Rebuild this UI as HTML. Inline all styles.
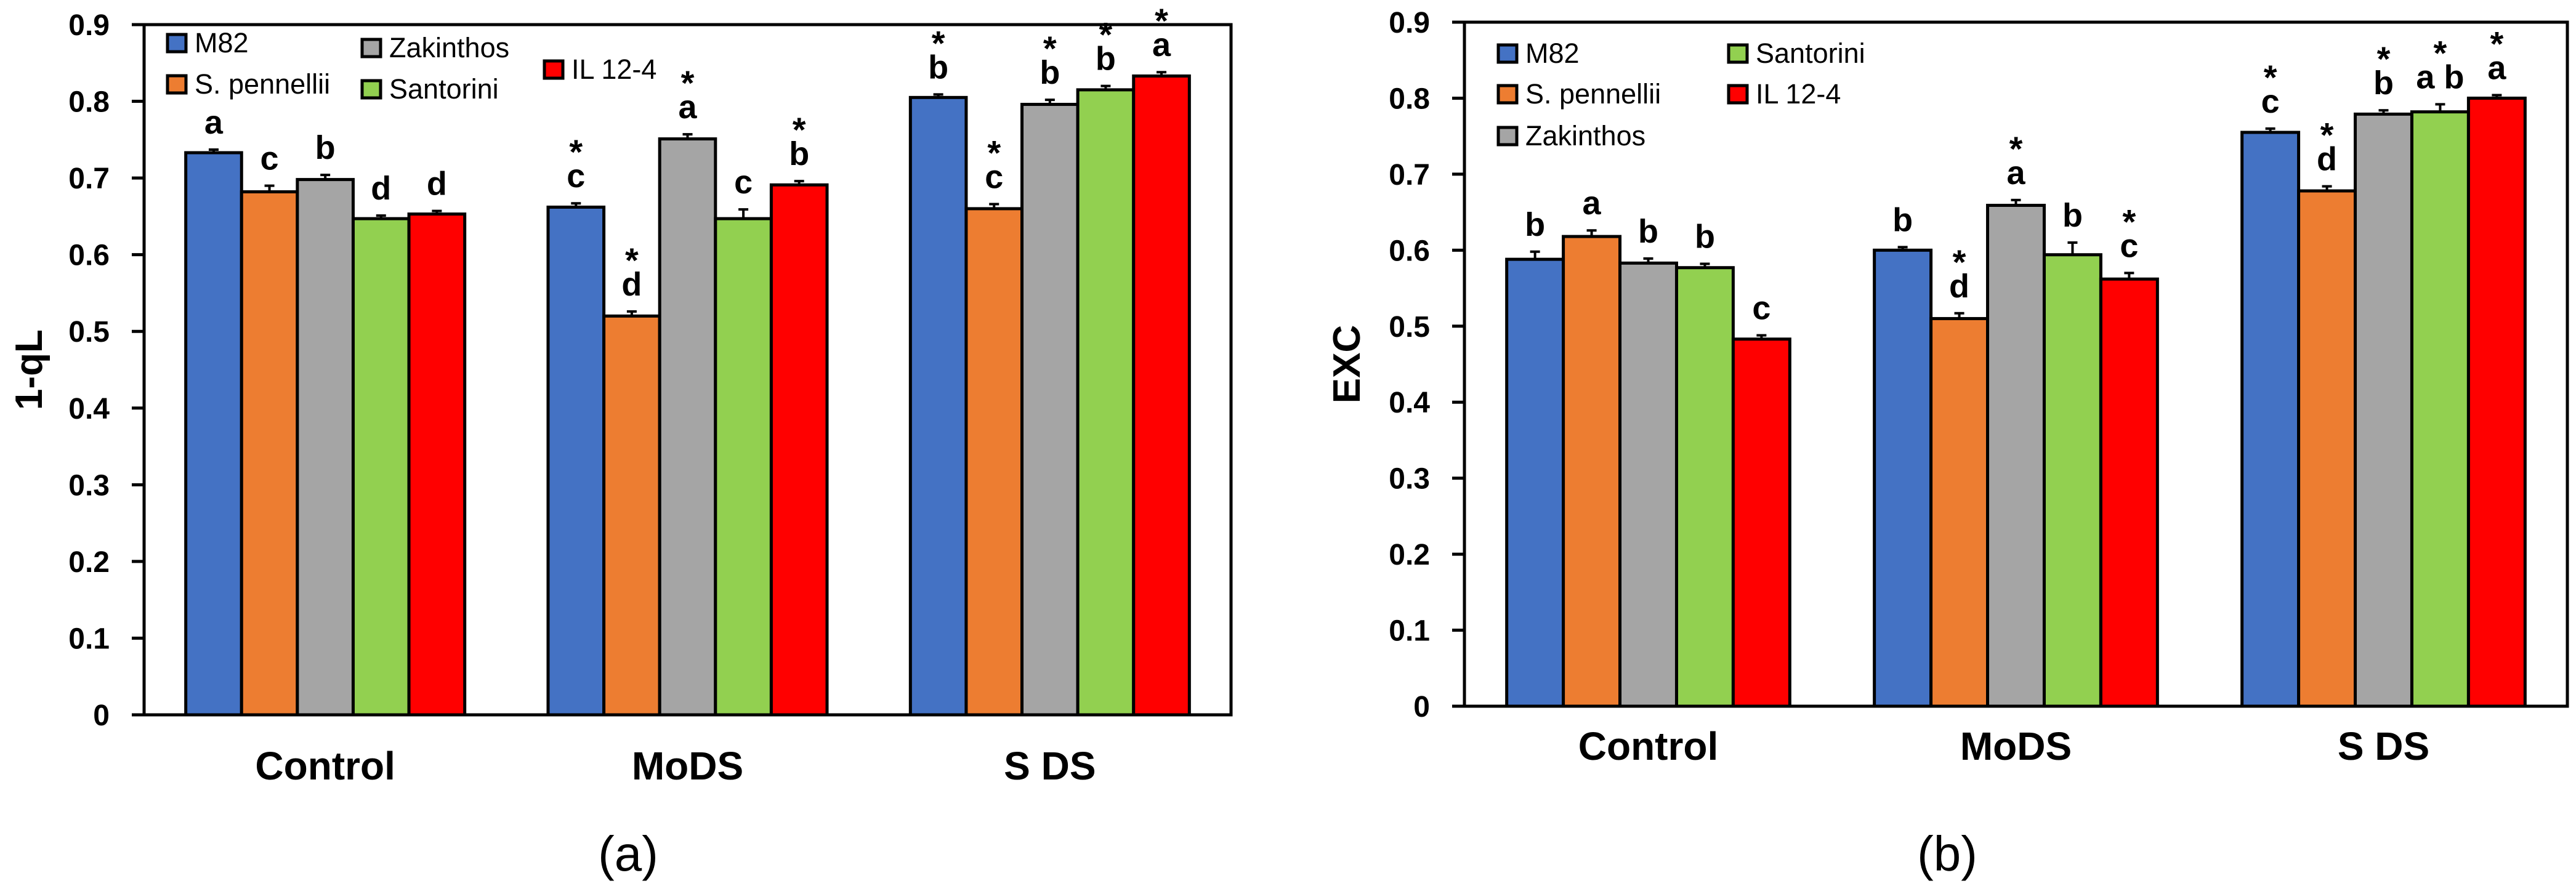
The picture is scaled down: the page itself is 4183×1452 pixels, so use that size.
<!DOCTYPE html>
<html><head><meta charset="utf-8"><style>
html,body{margin:0;padding:0;background:#fff;}
svg{display:block;}
text{font-family:"Liberation Sans",sans-serif;}
</style></head>
<body>
<svg id="fig" width="4183" height="1452" viewBox="0 0 4183 1452" xmlns="http://www.w3.org/2000/svg"></svg>
<script>
// ---- data ----
const categories = ["Control", "MoDS", "S DS"];
const seriesNames = ["M82", "S. pennellii", "Zakinthos", "Santorini", "IL 12-4"];
const seriesColors = ["#4472C4", "#ED7D31", "#A5A5A5", "#92D050", "#FF0000"];
const yTicks = ["0", "0.1", "0.2", "0.3", "0.4", "0.5", "0.6", "0.7", "0.8", "0.9"];

// chart (a) 1-qL : values per series across categories
const qlM82 = [0.733, 0.662, 0.805];
const qlSpen = [0.682, 0.520, 0.660];
const qlZak = [0.698, 0.751, 0.796];
const qlSant = [0.647, 0.647, 0.815];
const qlIL = [0.653, 0.691, 0.833];
const qlErr = [[0.004, 0.005, 0.004], [0.008, 0.006, 0.006], [0.006, 0.006, 0.006], [0.004, 0.012, 0.005], [0.004, 0.005, 0.005]];
const qlLetters = [["a", "c", "b"], ["c", "d", "c"], ["b", "a", "b"], ["d", "c", "b"], ["d", "b", "a"]];
const qlStars = [[0, 1, 1], [0, 1, 1], [0, 1, 1], [0, 0, 1], [0, 1, 1]];

// chart (b) EXC
const excM82 = [0.588, 0.600, 0.755];
const excSpen = [0.618, 0.510, 0.678];
const excZak = [0.583, 0.659, 0.779];
const excSant = [0.577, 0.594, 0.782];
const excIL = [0.483, 0.562, 0.800];
const excErr = [[0.010, 0.004, 0.005], [0.008, 0.007, 0.006], [0.006, 0.007, 0.005], [0.005, 0.016, 0.010], [0.005, 0.008, 0.004]];
const excLetters = [["b", "b", "c"], ["a", "d", "d"], ["b", "a", "b"], ["b", "b", "a b"], ["c", "c", "a"]];
const excStars = [[0, 0, 1], [0, 1, 1], [0, 1, 1], [0, 0, 1], [0, 1, 1]];

const NS = "http://www.w3.org/2000/svg";
const svg = document.getElementById("fig");
function mk(tag, attrs, parent) {
  const e = document.createElementNS(NS, tag);
  for (const k in attrs) e.setAttribute(k, attrs[k]);
  (parent || svg).appendChild(e);
  return e;
}

function drawChart(cfg) {
  const g = mk("g", {});
  
  
  const L = cfg.left, R = cfg.right, T = cfg.top, B = cfg.bottom;
  const yMax = 0.9;
  const yS = v => B - (v / yMax) * (B - T);
  const catW = (R - L) / categories.length;
  const barW = catW * 0.77 / seriesNames.length;
  const xS = (ci, si) => L + catW * ci + catW / 2 - (barW * seriesNames.length) / 2 + si * barW;

  const frame = mk("rect", {x: L, y: T, width: R - L, height: B - T, fill: "none", stroke: "#000", "stroke-width": 5}, g);
  
  

  yTicks.forEach(t => {
    const y = yS(parseFloat(t));
    const tk = mk("line", {x1: L - 20, x2: L, y1: y, y2: y, stroke: "#000", "stroke-width": 5}, g);
    
    
    const lb = mk("text", {x: L - 56, y: y + 17, "text-anchor": "end", "font-size": 48, "font-weight": "bold"}, g);
    lb.textContent = t;
    
    
  });

  cfg.values.forEach((arr, si) => {
    arr.forEach((v, ci) => {
      const x = xS(ci, si), y = yS(v);
      const r = mk("rect", {x: x, y: y, width: barW, height: B - y, fill: seriesColors[si], stroke: "#000", "stroke-width": 5}, g);
      
      
      const cx = x + barW / 2;
      const ey = yS(v + cfg.err[si][ci]);
      const el = mk("line", {x1: cx, x2: cx, y1: y, y2: ey, stroke: "#000", "stroke-width": 4}, g);
      
      
      const ec = mk("line", {x1: cx - 8, x2: cx + 8, y1: ey, y2: ey, stroke: "#000", "stroke-width": 4}, g);
      
      
      const lbY = ey - 26;
      const lt = mk("text", {x: cx, y: lbY, "text-anchor": "middle", "font-size": 54, "font-weight": "bold"}, g);
      lt.textContent = cfg.letters[si][ci];
      
      
      if (cfg.stars[si][ci]) {
        const st = mk("text", {x: cx, y: lbY - 38, "text-anchor": "middle", "font-size": 56, "font-weight": "bold"}, g);
        st.textContent = "*";
        
        
      }
    });
  });

  categories.forEach((c, ci) => {
    const t = mk("text", {x: L + catW * ci + catW / 2, y: cfg.catY, "text-anchor": "middle", "font-size": 64, "font-weight": "bold"}, g);
    t.textContent = c;
    
    
  });

  const yt = mk("text", {x: 0, y: 0, "text-anchor": "middle", "font-size": 62, "font-weight": "bold", transform: "translate(" + cfg.yTitleX + "," + ((T + B) / 2) + ") rotate(-90)"}, g);
  yt.textContent = cfg.yTitle;
  
  

  cfg.legend.forEach((p, si) => {
    const sw = mk("rect", {x: p[0], y: p[1] - 14, width: 30, height: 28, fill: seriesColors[si], stroke: "#000", "stroke-width": 5}, g);
    
    
    const lt = mk("text", {x: p[0] + 44, y: p[1] + 15, "font-size": 45}, g);
    lt.textContent = seriesNames[si];
    
    
  });

  const pl = mk("text", {x: cfg.panelX, y: 1414, "text-anchor": "middle", "font-size": 80, "font-family": "Liberation Serif, serif"}, g);
  pl.textContent = cfg.panel;
  
  
}

drawChart({
  id: "chart-a-1-ql", left: 234, right: 1999, top: 40, bottom: 1161,
  values: [qlM82, qlSpen, qlZak, qlSant, qlIL], err: qlErr, letters: qlLetters, stars: qlStars,
  catY: 1266, yTitle: "1-qL", yTitleX: 68, panel: "(a)", panelX: 1020,
  legend: [[272, 70], [272, 137], [588, 78], [588, 145], [884, 113]]
});
drawChart({
  id: "chart-b-exc", left: 2378, right: 4169, top: 36, bottom: 1147,
  values: [excM82, excSpen, excZak, excSant, excIL], err: excErr, letters: excLetters, stars: excStars,
  catY: 1234, yTitle: "EXC", yTitleX: 2208, panel: "(b)", panelX: 3162,
  legend: [[2433, 87], [2433, 153], [2433, 221], [2807, 87], [2807, 153]]
});
</script>
</body></html>
